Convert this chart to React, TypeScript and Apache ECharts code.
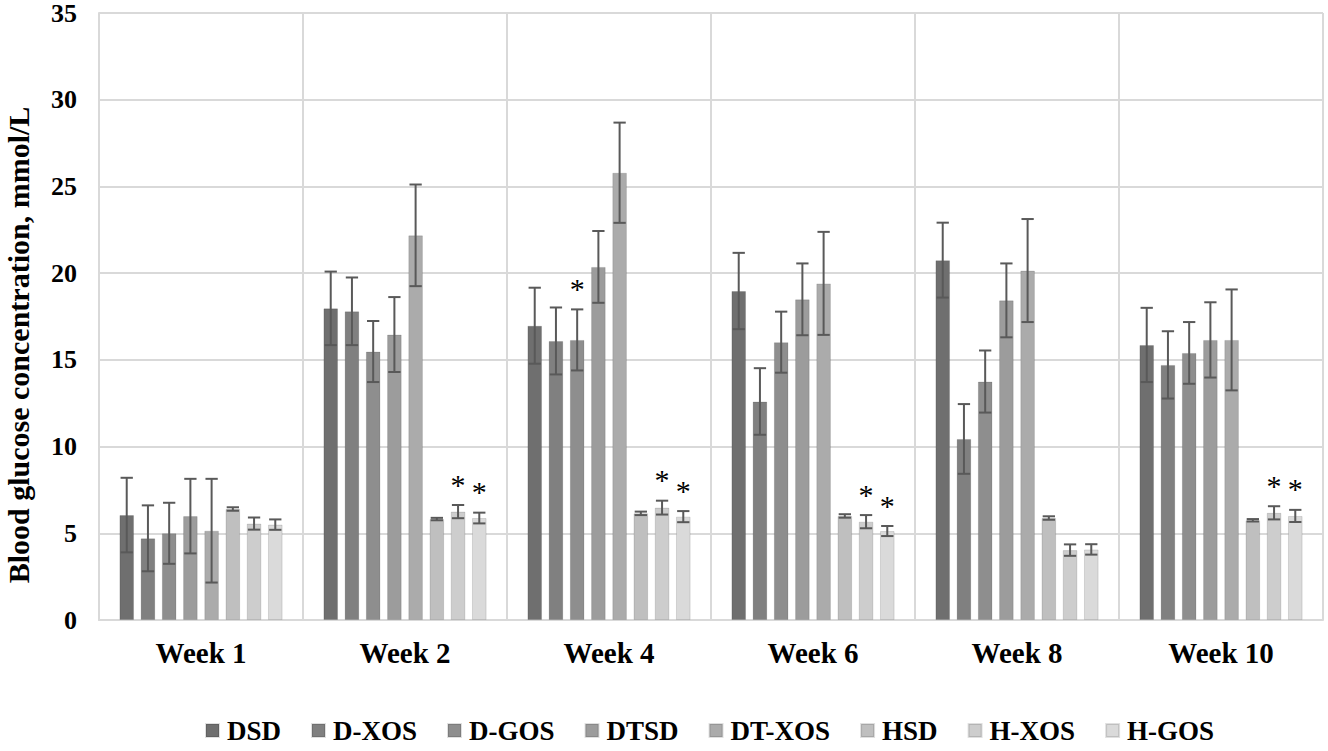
import { useEffect, useRef } from 'react';
import * as echarts from 'echarts';

const weeks = ['Week 1', 'Week 2', 'Week 4', 'Week 6', 'Week 8', 'Week 10'];
const groups = ['DSD', 'D-XOS', 'D-GOS', 'DTSD', 'DT-XOS', 'HSD', 'H-XOS', 'H-GOS'];
const colors = ['#6f6f6f', '#808080', '#8e8e8e', '#9c9c9c', '#ababab', '#bfbfbf', '#cdcdcd', '#dadada'];
const yTicks = [0, 5, 10, 15, 20, 25, 30, 35];

// means per group, one value per week
const dsd = [6.05, 17.97, 16.97, 18.97, 20.75, 15.86];
const dXos = [4.71, 17.8, 16.09, 12.6, 10.44, 14.71];
const dGos = [5.0, 15.48, 16.15, 16.02, 13.75, 15.4];
const dtsd = [5.99, 16.46, 20.36, 18.49, 18.43, 16.15];
const dtXos = [5.15, 22.18, 25.79, 19.41, 20.15, 16.15];
const hsd = [6.4, 5.82, 6.15, 6.0, 5.88, 5.75];
const hXos = [5.56, 6.25, 6.48, 5.67, 4.03, 6.18];
const hGos = [5.5, 5.88, 5.96, 5.13, 4.07, 6.0];

// standard deviations
const dsdSd = [2.15, 2.12, 2.19, 2.2, 2.16, 2.14];
const dXosSd = [1.9, 1.95, 1.93, 1.92, 2.01, 1.94];
const dGosSd = [1.76, 1.76, 1.76, 1.76, 1.79, 1.78];
const dtsdSd = [2.15, 2.16, 2.07, 2.07, 2.13, 2.17];
const dtXosSd = [2.99, 2.93, 2.89, 2.97, 2.97, 2.91];
const hsdSd = [0.1, 0.07, 0.1, 0.1, 0.1, 0.07];
const hXosSd = [0.35, 0.38, 0.4, 0.38, 0.33, 0.38];
const hGosSd = [0.3, 0.31, 0.32, 0.29, 0.3, 0.35];

// significance marks (1 = *)
const dGosStar = [0, 0, 1, 0, 0, 0];
const hXosStar = [0, 1, 1, 1, 0, 1];
const hGosStar = [0, 1, 1, 1, 0, 1];
const noStar = [0, 0, 0, 0, 0, 0];

const means = [dsd, dXos, dGos, dtsd, dtXos, hsd, hXos, hGos];
const sds = [dsdSd, dXosSd, dGosSd, dtsdSd, dtXosSd, hsdSd, hXosSd, hGosSd];
const stars = [noStar, noStar, dGosStar, noStar, noStar, noStar, hXosStar, hGosStar];

const FONT = '"Liberation Serif", "Times New Roman", serif';
const GRID_COLOR = '#d9d9d9';
const N = groups.length;

export default function App() {
  const ref = useRef<HTMLDivElement>(null);

  useEffect(() => {
    document.body.style.margin = '0';
    if (!ref.current) return;
    const chart = echarts.init(ref.current, undefined, { renderer: 'svg' });

    const bars = groups.map((name, i) => ({
      type: 'bar' as const,
      name,
      data: means[i],
      barGap: '45%',
      barCategoryGap: '20%',
      itemStyle: { color: colors[i], borderColor: 'rgba(0,0,0,0.12)', borderWidth: 1 },
    }));

    // error bars + asterisks
    const errs = groups.map((_, i) => ({
      type: 'custom' as const,
      z: 5,
      silent: true,
      data: weeks.map((_, w) => [w, means[i][w], sds[i][w], stars[i][w]]),
      encode: { x: 0, y: 1 },
      renderItem: (_p: any, api: any) => {
        const ci = api.value(0);
        const m = api.value(1);
        const s = api.value(2);
        const star = api.value(3);
        const band = api.size([1, 0])[0];
        const bw = (band * 0.8) / (N + (N - 1) * 0.45);
        const off = (i - (N - 1) / 2) * bw * 1.45;
        const top = api.coord([ci, m + s]);
        const bot = api.coord([ci, m - s]);
        const x = top[0] + off;
        const cap = bw * 0.42;
        const st = { stroke: '#595959', lineWidth: 2 };
        const children: any[] = [
          { type: 'line', shape: { x1: x, y1: top[1], x2: x, y2: bot[1] }, style: st },
          { type: 'line', shape: { x1: x - cap, y1: top[1], x2: x + cap, y2: top[1] }, style: st },
          { type: 'line', shape: { x1: x - cap, y1: bot[1], x2: x + cap, y2: bot[1] }, style: st },
        ];
        if (star) {
          children.push({
            type: 'text',
            x,
            y: top[1] - 21,
            style: {
              text: '*',
              fontFamily: FONT,
              fontSize: 30,
              fill: '#000',
              align: 'center',
              verticalAlign: 'middle',
            },
          });
        }
        return { type: 'group', children };
      },
    }));

    chart.setOption({
      animation: false,
      backgroundColor: '#fff',
      grid: { left: 99, right: 5, top: 13, bottom: 131 },
      legend: {
        data: groups,
        left: 200,
        bottom: 2,
        icon: 'rect',
        itemWidth: 13,
        itemHeight: 13,
        itemGap: 30,
        textStyle: {
          fontFamily: FONT,
          fontWeight: 'bold',
          fontSize: 27,
          color: '#000',
          padding: [0, 0, 0, 3],
        },
      },
      xAxis: {
        type: 'category',
        data: weeks,
        axisLine: { lineStyle: { color: GRID_COLOR, width: 2 } },
        axisTick: { show: false },
        splitLine: { show: true, lineStyle: { color: GRID_COLOR, width: 2 } },
        axisLabel: {
          fontFamily: FONT,
          fontWeight: 'bold',
          fontSize: 29,
          color: '#000',
          margin: 18,
        },
      },
      yAxis: {
        type: 'value',
        min: yTicks[0],
        max: yTicks[yTicks.length - 1],
        interval: 5,
        axisLine: { show: true, lineStyle: { color: GRID_COLOR, width: 2 } },
        axisTick: { show: false },
        splitLine: { lineStyle: { color: GRID_COLOR, width: 2 } },
        axisLabel: {
          fontFamily: FONT,
          fontWeight: 'bold',
          fontSize: 26,
          color: '#000',
          margin: 22,
        },
      },
      graphic: [
        {
          type: 'text',
          x: 18,
          y: 345,
          rotation: Math.PI / 2,
          style: {
            text: 'Blood glucose concentration, mmol/L',
            fontFamily: FONT,
            fontWeight: 'bold',
            fontSize: 30,
            fill: '#000',
            align: 'center',
            verticalAlign: 'middle',
          },
        },
      ],
      series: [...bars, ...errs],
    });

    return () => chart.dispose();
  }, []);

  return <div ref={ref} style={{ width: 1328, height: 751 }} />;
}
